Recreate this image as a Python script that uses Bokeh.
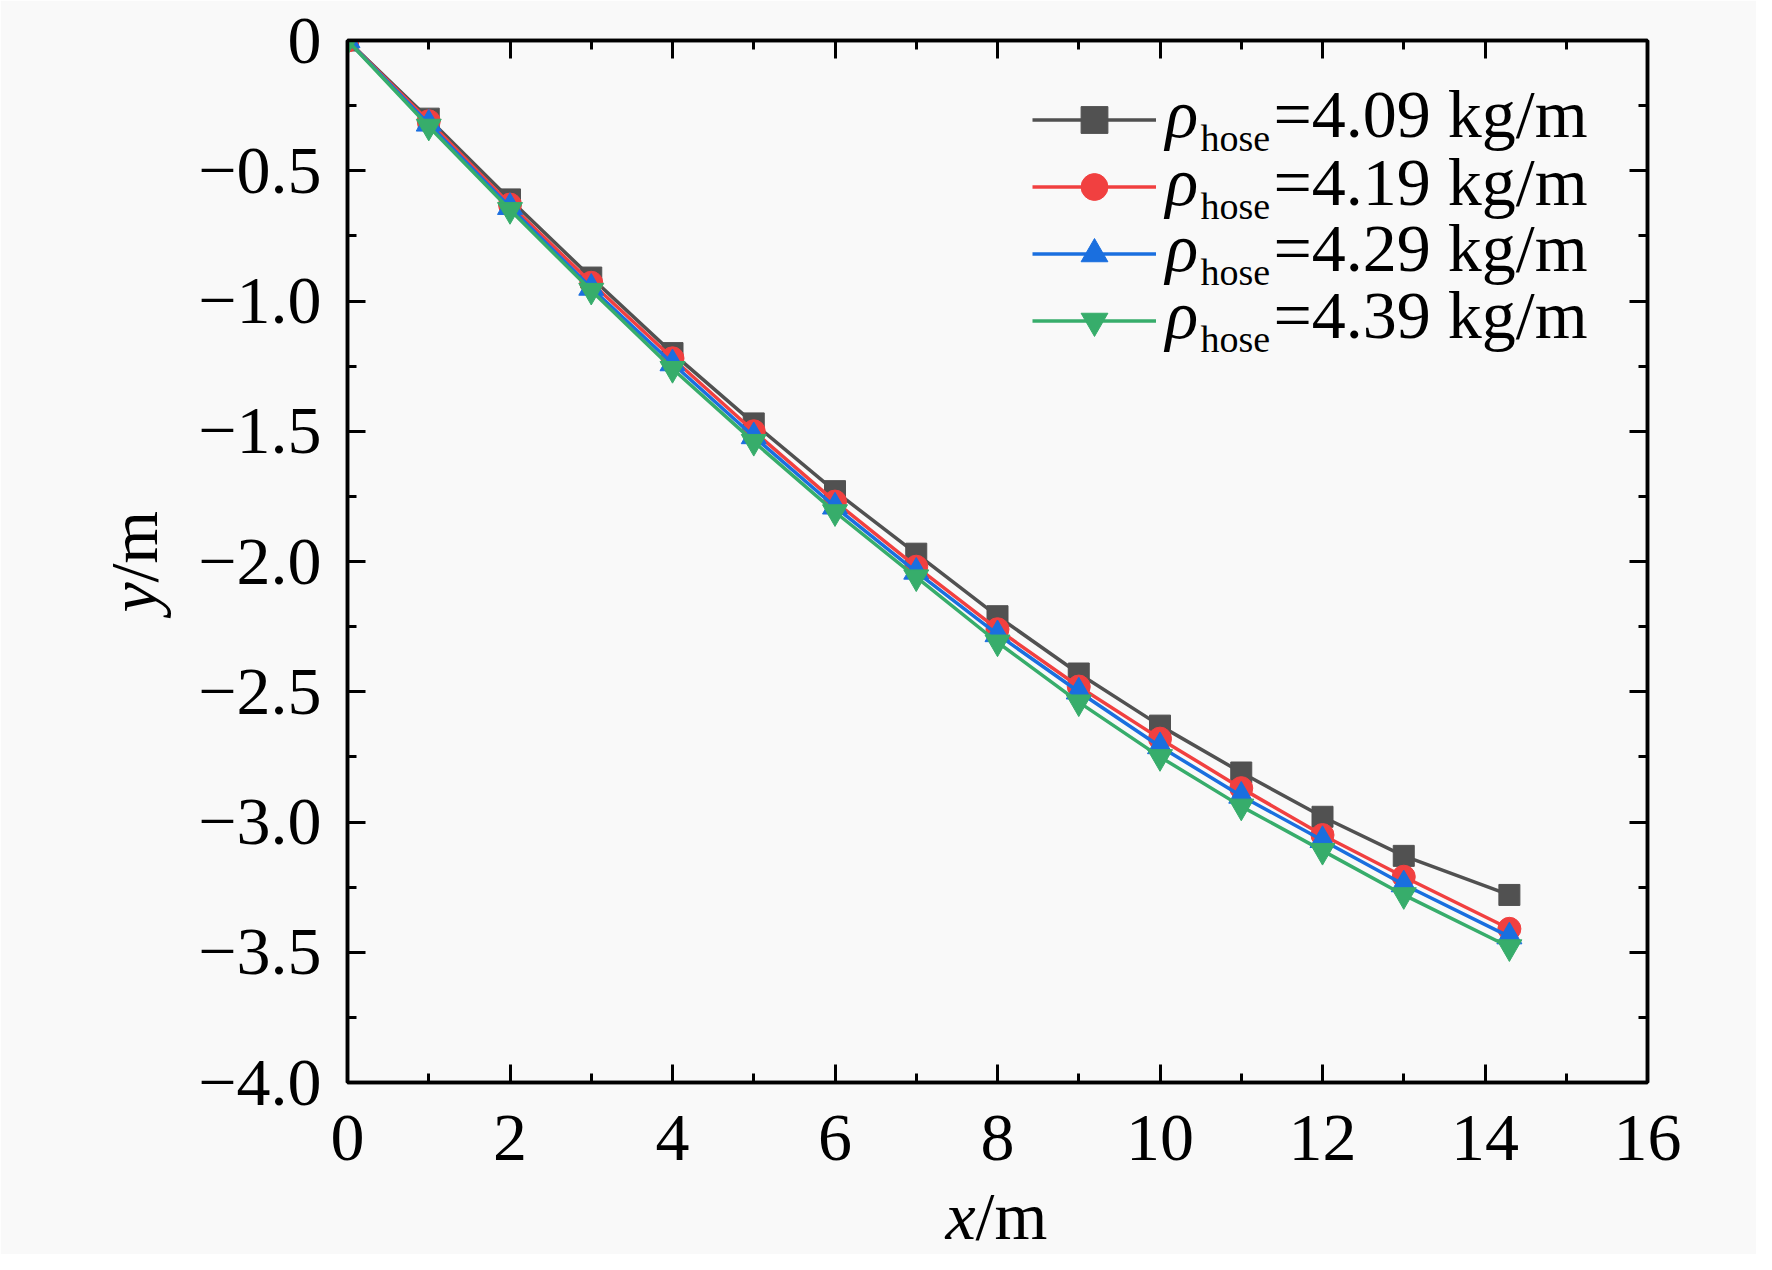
import math
from bokeh.plotting import figure
from bokeh.models import (Range1d, FixedTicker, LinearAxis, Legend, LegendItem, Label)
from bokeh.embed import file_html
from bokeh.resources import INLINE

# ---- data ----
x_vals = [0, 1, 2, 3, 4, 5, 6, 7, 8, 9, 10, 11, 12, 13, 14.3]
y_409 = [0, -0.30, -0.61, -0.91, -1.20, -1.47, -1.73, -1.97, -2.21, -2.43, -2.63, -2.81, -2.98, -3.13, -3.28]
y_419 = [0, -0.31, -0.63, -0.93, -1.22, -1.50, -1.77, -2.02, -2.26, -2.48, -2.68, -2.87, -3.05, -3.21, -3.41]
y_429 = [0, -0.32, -0.64, -0.95, -1.24, -1.52, -1.79, -2.04, -2.28, -2.50, -2.71, -2.90, -3.07, -3.24, -3.44]
y_439 = [0, -0.33, -0.65, -0.96, -1.26, -1.54, -1.81, -2.06, -2.31, -2.54, -2.75, -2.94, -3.11, -3.28, -3.48]
series_values = ["=4.09 kg/m", "=4.19 kg/m", "=4.29 kg/m", "=4.39 kg/m"]

x_ticks = [0, 2, 4, 6, 8, 10, 12, 14, 16]
x_minor = [1, 3, 5, 7, 9, 11, 13, 15]
y_ticks = [-4.0, -3.5, -3.0, -2.5, -2.0, -1.5, -1.0, -0.5, 0.0]
y_tick_labels = ["\u22124.0", "\u22123.5", "\u22123.0", "\u22122.5", "\u22122.0",
                 "\u22121.5", "\u22121.0", "\u22120.5", "0"]
y_minor = [-3.75, -3.25, -2.75, -2.25, -1.75, -1.25, -0.75, -0.25]

FONT = "Liberation Serif"
FS = "68px"
BG = "#f9f9f9"

p = figure(width=1756, height=1254, output_backend="svg", toolbar_location=None,
           x_range=Range1d(0, 16), y_range=Range1d(-4, 0),
           x_axis_location=None, y_axis_location=None,
           min_border_left=347, min_border_right=109, min_border_top=40, min_border_bottom=172,
           background_fill_color=BG, border_fill_color=BG)
p.xgrid.visible = False
p.ygrid.visible = False
p.outline_line_color = "black"
p.outline_line_width = 3.5


def style_axis(ax, ticks, show_labels):
    ax.axis_line_width = 3.5
    ax.axis_line_color = "black"
    ax.major_tick_in = 18
    ax.major_tick_out = 0
    ax.minor_tick_in = 9
    ax.minor_tick_out = 0
    ax.major_tick_line_width = 3
    ax.minor_tick_line_width = 3
    ax.major_tick_line_color = "black"
    ax.minor_tick_line_color = "black"
    ax.major_label_text_font = FONT
    ax.major_label_text_color = "black"
    if show_labels:
        ax.major_label_text_font_size = FS
    else:
        # mirrored axis: ticks only, labels blank
        ax.major_label_text_font_size = "10px"
        ax.major_label_standoff = 0
        ax.major_label_overrides = {t: "" for t in ticks}


xb = LinearAxis(ticker=FixedTicker(ticks=x_ticks, minor_ticks=x_minor))
style_axis(xb, x_ticks, True)
xb.major_label_standoff = 33
xt = LinearAxis(ticker=FixedTicker(ticks=x_ticks, minor_ticks=x_minor))
style_axis(xt, x_ticks, False)
yl = LinearAxis(ticker=FixedTicker(ticks=y_ticks, minor_ticks=y_minor))
style_axis(yl, y_ticks, True)
yl.major_label_standoff = 26
yl.major_label_overrides = {t: s for t, s in zip(y_ticks, y_tick_labels)}
yr = LinearAxis(ticker=FixedTicker(ticks=y_ticks, minor_ticks=y_minor))
style_axis(yr, y_ticks, False)
p.add_layout(xb, "below")
p.add_layout(xt, "above")
p.add_layout(yl, "left")
p.add_layout(yr, "right")

colors = ["#515151", "#F14040", "#1A6FDF", "#37AD6B"]
markers = ["square", "circle", "triangle", "inverted_triangle"]
sizes = [21, 23, 25, 25]
ys = [y_409, y_419, y_429, y_439]

items = []
for yv, c, m, s in zip(ys, colors, markers, sizes):
    r_line = p.line(x_vals, yv, line_color=c, line_width=3.5)
    r_pt = p.scatter(x_vals, yv, marker=m, size=s, fill_color=c, line_color=c, line_width=1)
    items.append(LegendItem(label=" ", renderers=[r_line, r_pt]))

legend = Legend(items=items, location=(685, 728), orientation="vertical",
                padding=0, margin=0, spacing=0,
                glyph_width=124, glyph_height=67, label_height=67, label_width=1,
                label_standoff=0, label_text_font_size="1px",
                background_fill_alpha=0, border_line_alpha=0)
p.add_layout(legend, "center")

# legend texts (rho_hose = value); anchors are text middles
mids = [969, 901, 835, 768]
for txt, m_y in zip(series_values, mids):
    p.add_layout(Label(x=818, y=m_y, x_units="screen", y_units="screen", text="\u03c1",
                       text_font=FONT, text_font_style="italic", text_font_size=FS,
                       text_baseline="middle", text_align="left", text_color="black"))
    p.add_layout(Label(x=853, y=m_y - 24, x_units="screen", y_units="screen", text="hose",
                       text_font=FONT, text_font_size="38px",
                       text_baseline="middle", text_align="left", text_color="black"))
    p.add_layout(Label(x=926, y=m_y, x_units="screen", y_units="screen", text=txt,
                       text_font=FONT, text_font_size=FS,
                       text_baseline="middle", text_align="left", text_color="black"))

# axis titles, placed in side panels (not clipped), positioned in data units
p.add_layout(Label(x=7.36, y=-4.512, text="x",
                   text_font=FONT, text_font_style="italic", text_font_size=FS,
                   text_baseline="middle", text_align="left", text_color="black"), "below")
p.add_layout(Label(x=7.73, y=-4.512, text="/m",
                   text_font=FONT, text_font_size=FS,
                   text_baseline="middle", text_align="left", text_color="black"), "right")
p.add_layout(Label(x=-2.63, y=-2.196, text="y",
                   text_font=FONT, text_font_style="italic", text_font_size=FS,
                   text_baseline="middle", text_align="left", text_color="black",
                   angle=math.pi / 2), "left")
p.add_layout(Label(x=-2.63, y=-2.081, text="/m",
                   text_font=FONT, text_font_size=FS,
                   text_baseline="middle", text_align="left", text_color="black",
                   angle=math.pi / 2), "left")

open("out.html", "w").write(file_html(p, INLINE))
